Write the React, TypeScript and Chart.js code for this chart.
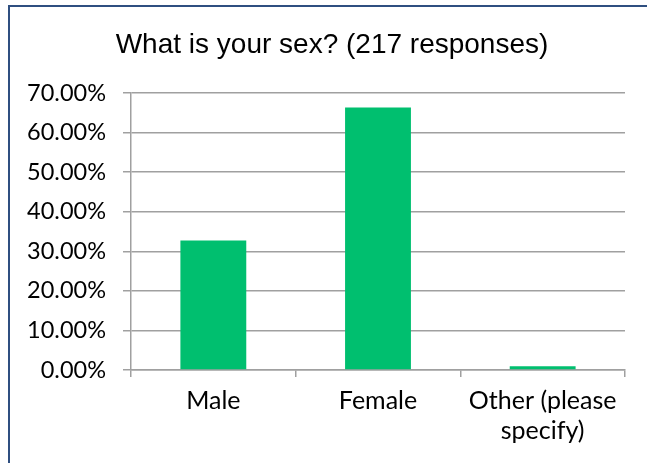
import React, { useEffect, useRef } from "react";
import { Chart, registerables } from "chart.js";
Chart.register(...registerables);

const chartTitle = "What is your sex? (217 responses)";
const categories: (string | string[])[] = ["Male", "Female", ["Other (please", "specify)"]];
const percentValues = [32.72, 66.36, 0.92];
const yMin = 0;
const yMax = 70;
const yStep = 10;

const titlePlugin = {
  id: "customTitle",
  afterDraw(chart: any) {
    const ctx = chart.ctx;
    ctx.save();
    ctx.font = "28px 'Liberation Sans', Arial, sans-serif";
    ctx.fillStyle = "#000000";
    ctx.textAlign = "center";
    ctx.textBaseline = "alphabetic";
    ctx.fillText(chartTitle, 332, 53);
    ctx.restore();
  },
};

export default function App() {
  const ref = useRef<HTMLCanvasElement>(null);
  useEffect(() => {
    if (!ref.current) return;
    const chart = new Chart(ref.current, {
      type: "bar",
      data: {
        labels: categories as any,
        datasets: [
          {
            data: percentValues,
            backgroundColor: "#00BF6F",
            borderWidth: 0,
            barPercentage: 0.4,
            categoryPercentage: 1,
          },
        ],
      },
      options: {
        animation: false,
        responsive: true,
        maintainAspectRatio: false,
        layout: { padding: { top: 93, right: 22, bottom: 0, left: 0 } },
        plugins: {
          legend: { display: false },
          title: { display: false },
          tooltip: { enabled: false },
        },
        scales: {
          x: {
            afterFit(s: any) {
              s.height = 93;
            },
            grid: {
              offset: true,
              drawOnChartArea: false,
              drawTicks: true,
              tickLength: 7,
              color: "#A0A0A0",
              lineWidth: 1.5,
            },
            border: { color: "#A0A0A0", width: 1.5 },
            ticks: {
              color: "#000000",
              padding: 9,
              maxRotation: 0,
              autoSkip: false,
              font: { family: "Lato, 'Open Sans', sans-serif", size: 25, lineHeight: 1.2 },
            },
          },
          y: {
            min: yMin,
            max: yMax,
            afterFit(s: any) {
              s.width = 131;
            },
            grid: {
              color: "#A0A0A0",
              lineWidth: 1.5,
              drawTicks: true,
              tickLength: 8,
            },
            border: { color: "#A0A0A0", width: 1.5 },
            ticks: {
              stepSize: yStep,
              color: "#000000",
              padding: 17,
              font: { family: "Lato, 'Open Sans', sans-serif", size: 23.5 },
              callback: (v: any) => Number(v).toFixed(2) + "%",
            },
          },
        },
      },
      plugins: [titlePlugin],
    });
    return () => chart.destroy();
  }, []);

  return (
    <div
      style={{
        position: "absolute",
        left: 0,
        top: 0,
        width: 647,
        height: 463,
        overflow: "hidden",
        background: "#ffffff",
      }}
    >
      <div style={{ position: "absolute", left: 0, top: 0, width: 647, height: 463 }}>
        <canvas ref={ref} />
      </div>
      <div
        style={{
          position: "absolute",
          left: 8,
          top: 5,
          width: 700,
          height: 600,
          border: "2px solid #2F4F80",
          pointerEvents: "none",
        }}
      />
    </div>
  );
}
